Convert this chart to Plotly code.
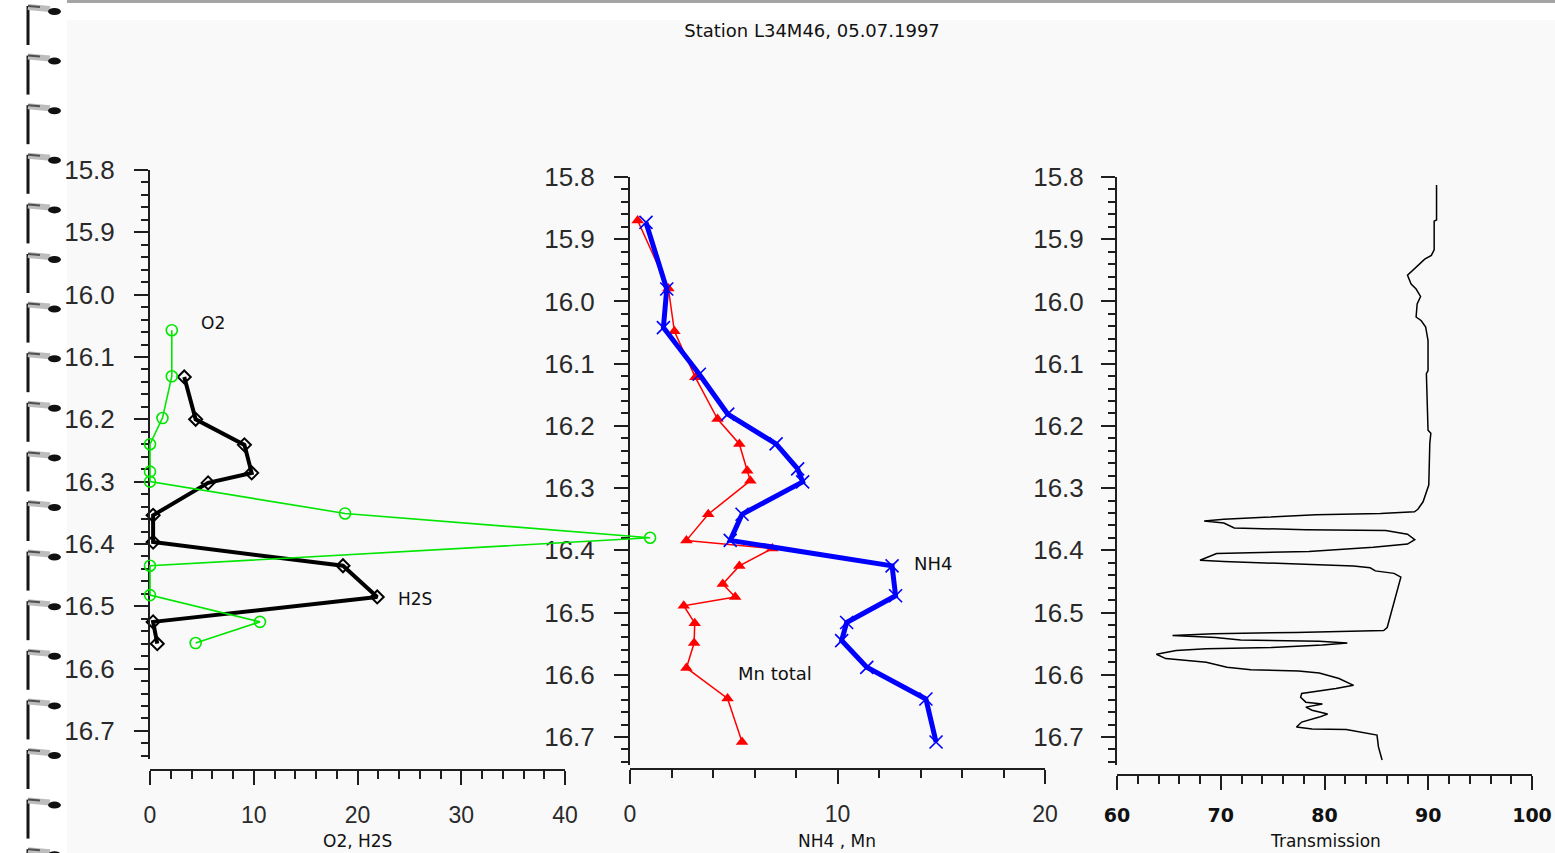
import plotly.graph_objects as go

# ---------------- data ----------------
o2_depth = [16.057, 16.131, 16.198, 16.240, 16.284, 16.300, 16.351, 16.390, 16.435, 16.482, 16.525, 16.559]
o2_value = [2.1, 2.1, 1.2, 0.0, 0.0, 0.0, 18.8, 48.2, 0.0, 0.0, 10.6, 4.4]

h2s_depth = [16.132, 16.200, 16.241, 16.286, 16.302, 16.354, 16.397, 16.435, 16.485, 16.525, 16.560]
h2s_value = [3.3, 4.4, 9.1, 9.8, 5.6, 0.3, 0.3, 18.6, 21.9, 0.3, 0.7]

nh4_depth = [15.873, 15.980, 16.042, 16.117, 16.181, 16.229, 16.269, 16.290, 16.342, 16.384,
             16.425, 16.473, 16.516, 16.545, 16.588, 16.639, 16.708]
nh4_value = [0.77, 1.77, 1.61, 3.34, 4.71, 7.04, 8.08, 8.32, 5.4, 4.83,
             12.63, 12.8, 10.44, 10.2, 11.41, 14.26, 14.75]

mn_depth = [15.870, 15.979, 16.048, 16.122, 16.189, 16.229, 16.272, 16.288, 16.342, 16.384,
            16.397, 16.425, 16.454, 16.475, 16.489, 16.517, 16.549, 16.589, 16.638, 16.708]
mn_value = [0.37, 1.85, 2.14, 3.15, 4.22, 5.27, 5.65, 5.8, 3.77, 2.72,
            6.86, 5.27, 4.47, 5.07, 2.59, 3.12, 3.09, 2.72, 4.7, 5.4]

trans_depth = [15.813, 15.869, 15.871, 15.917, 15.926, 15.932, 15.958, 15.972, 15.980, 15.992,
               16.004, 16.025, 16.031, 16.041, 16.063, 16.111, 16.116, 16.140, 16.207, 16.212,
               16.228, 16.295, 16.308, 16.322, 16.334, 16.338, 16.341, 16.343, 16.347, 16.350,
               16.353, 16.356, 16.364, 16.367, 16.368, 16.374, 16.383, 16.390, 16.395, 16.402,
               16.405, 16.416, 16.418, 16.422, 16.425, 16.428, 16.433, 16.437, 16.443, 16.524,
               16.529, 16.532, 16.534, 16.537, 16.540, 16.544, 16.546, 16.549, 16.552, 16.556,
               16.558, 16.561, 16.567, 16.574, 16.580, 16.588, 16.592, 16.594, 16.597, 16.606,
               16.617, 16.622, 16.626, 16.630, 16.636, 16.644, 16.647, 16.652, 16.657, 16.663,
               16.668, 16.676, 16.684, 16.687, 16.688, 16.697, 16.716, 16.737]
trans_value = [90.8, 90.8, 90.57, 90.57, 90.3, 89.66, 88.0, 88.35, 88.83, 89.26,
               88.93, 88.83, 89.33, 89.75, 89.98, 89.98, 89.82, 89.88, 89.98, 90.25,
               90.15, 90.05, 89.82, 89.5, 89.0, 88.67, 85.4, 79.15, 74.2, 70.3,
               68.4, 70.3, 71.3, 78.2, 85.9, 88.0, 88.7, 88.0, 84.7, 78.5,
               69.6, 68.0, 70.3, 77.2, 82.8, 84.4, 84.9, 86.7, 87.36, 86.04,
               85.7, 77.2, 69.3, 65.35, 69.5, 71.9, 79.5, 82.2, 79.8, 74.9,
               68.6, 65.7, 63.8, 64.7, 68.6, 70.6, 72.9, 77.5, 79.5, 81.4,
               82.8, 81.1, 79.5, 77.8, 77.7, 78.2, 79.8, 78.2, 78.8, 80.3,
               79.5, 77.8, 77.3, 78.8, 82.1, 85.06, 85.2, 85.55]

title_text = "Station L34M46, 05.07.1997"
depth_ticks = [15.8, 15.9, 16.0, 16.1, 16.2, 16.3, 16.4, 16.5, 16.6, 16.7]

# ---------------- geometry helpers ----------------
W, H = 1555, 853


def fx(px):
    return px / W


def fy(py):
    return 1 - py / H


AX = "#1e1e1e"
TXT = "#2a2a2a"

fig = go.Figure()

# O2 on a hidden, wider axis (same scale as panel 1) so its line can run past 40
fig.add_trace(go.Scatter(x=o2_value, y=o2_depth, xaxis="x4", yaxis="y", mode="lines+markers",
                         line=dict(color="#00e600", width=1.6),
                         marker=dict(symbol="circle-open", size=11, color="#00e600",
                                     line=dict(width=1.6, color="#00e600")),
                         cliponaxis=False, showlegend=False))
fig.add_trace(go.Scatter(x=h2s_value, y=h2s_depth, xaxis="x", yaxis="y", mode="lines+markers",
                         line=dict(color="#000000", width=4),
                         marker=dict(symbol="diamond-open", size=10, color="#000000",
                                     line=dict(width=2, color="#000000")),
                         cliponaxis=False, showlegend=False))
fig.add_trace(go.Scatter(x=mn_value, y=mn_depth, xaxis="x2", yaxis="y2", mode="lines+markers",
                         line=dict(color="#ff0000", width=1.5),
                         marker=dict(symbol="triangle-up", size=11, color="#ff0000"),
                         cliponaxis=False, showlegend=False))
fig.add_trace(go.Scatter(x=nh4_value, y=nh4_depth, xaxis="x2", yaxis="y2", mode="lines+markers",
                         line=dict(color="#0000ff", width=5),
                         marker=dict(symbol="x-thin", size=13, color="#0000ff",
                                     line=dict(width=1.6, color="#0000ff")),
                         cliponaxis=False, showlegend=False))
fig.add_trace(go.Scatter(x=trans_value, y=trans_depth, xaxis="x3", yaxis="y3", mode="lines",
                         line=dict(color="#000000", width=1.5),
                         cliponaxis=False, showlegend=False))


def yax(domain, anchor, standoff):
    return dict(domain=domain, anchor=anchor, range=[16.745, 15.8],
                tickmode="array", tickvals=depth_ticks, ticktext=[f"{v:.1f}" for v in depth_ticks],
                ticks="outside", ticklen=14, tickwidth=2, tickcolor=AX,
                showline=True, linewidth=2, linecolor=AX,
                showgrid=False, zeroline=False, ticklabelstandoff=standoff,
                automargin=False,
                tickfont=dict(family="Liberation Sans, Arial", size=26, color=TXT),
                minor=dict(tick0=15.8, dtick=0.02, ticks="outside", ticklen=7, tickwidth=2,
                           tickcolor=AX, showgrid=False))


def xax(domain, rng, pos, font, standoff):
    return dict(domain=domain, anchor="free", position=pos, range=rng,
                tick0=rng[0], dtick=10, tickmode="linear",
                ticks="outside", ticklen=14, tickwidth=2, tickcolor=AX,
                showline=True, linewidth=2, linecolor=AX,
                showgrid=False, zeroline=False, ticklabelstandoff=standoff,
                automargin=False,
                tickfont=font,
                minor=dict(tick0=rng[0], dtick=2, ticks="outside", ticklen=8, tickwidth=2,
                           tickcolor=AX, showgrid=False))


norm_font = dict(family="Liberation Sans, Arial", size=23, color=TXT)
bold_font = dict(family="DejaVu Sans", size=19, color="#111111", weight="bold")

fig.update_layout(
    width=W, height=H,
    autosize=False,
    margin=dict(l=0, r=0, t=0, b=0, pad=0, autoexpand=False),
    paper_bgcolor="#ffffff",
    plot_bgcolor="rgba(0,0,0,0)",
    xaxis=xax([fx(150), fx(565)], [0, 40], fy(770), norm_font, 10),
    yaxis=yax([fy(759), fy(170)], "x", 14),
    xaxis2=xax([fx(630), fx(1045)], [0, 20], fy(769), norm_font, 10),
    yaxis2=yax([fy(765), fy(177)], "x2", 14),
    xaxis3=xax([fx(1117), fx(1532)], [60, 100], fy(775), bold_font, 9),
    yaxis3=yax([fy(765), fy(177)], "x3", 12),
    xaxis4=dict(domain=[fx(150 - 2 * 10.375), fx(150 + 50 * 10.375)], range=[-2, 50],
                anchor="y", visible=False, showgrid=False, zeroline=False),
    title=dict(text=title_text, x=fx(812), y=fy(31), xanchor="center", yanchor="middle",
               font=dict(family="DejaVu Sans", size=18, color="#111111")),
)

# background panels and the spiral binding decoration
shapes = [
    dict(type="rect", xref="paper", yref="paper", x0=fx(67), x1=1, y0=0, y1=fy(20),
         fillcolor="#f9f9f9", line=dict(width=0), layer="below"),
    dict(type="rect", xref="paper", yref="paper", x0=fx(67), x1=1, y0=fy(3), y1=1,
         fillcolor="#a4a4a4", line=dict(width=0), layer="below"),
]
for k in range(18):
    y0 = 7 + 49.6 * k
    shapes.append(dict(type="line", xref="paper", yref="paper", x0=fx(28), x1=fx(28),
                       y0=fy(y0 - 1), y1=fy(y0 + 38), line=dict(color="#151515", width=3)))
    shapes.append(dict(type="line", xref="paper", yref="paper", x0=fx(28), x1=fx(50),
                       y0=fy(y0), y1=fy(y0 + 2), line=dict(color="#bdbdbd", width=6)))
    shapes.append(dict(type="line", xref="paper", yref="paper", x0=fx(28), x1=fx(40),
                       y0=fy(y0 - 1), y1=fy(y0), line=dict(color="#505050", width=2)))
    shapes.append(dict(type="circle", xref="paper", yref="paper", x0=fx(48), x1=fx(61),
                       y0=fy(y0 + 8), y1=fy(y0 + 1), fillcolor="#111111",
                       line=dict(width=0)))
fig.update_layout(shapes=shapes)

label_font = dict(family="DejaVu Sans", size=17, color="#111111")
axis_title_font = dict(family="DejaVu Sans", size=17, color="#111111")
annotations = [
    dict(text="O2", x=fx(213), y=fy(323), font=label_font),
    dict(text="H2S", x=fx(415), y=fy(599), font=label_font),
    dict(text="NH4", x=fx(933), y=fy(563), font=dict(family="DejaVu Sans", size=18, color="#111111")),
    dict(text="Mn total", x=fx(775), y=fy(673), font=dict(family="DejaVu Sans", size=18, color="#111111")),
    dict(text="O2, H2S", x=fx(357), y=fy(841), font=axis_title_font),
    dict(text="NH4 , Mn", x=fx(837), y=fy(841), font=axis_title_font),
    dict(text="Transmission", x=fx(1325), y=fy(841), font=axis_title_font),
]
for a in annotations:
    a.update(xref="paper", yref="paper", xanchor="center", yanchor="middle", showarrow=False)
fig.update_layout(annotations=annotations)

fig.write_html("out.html", config={"displayModeBar": False},
               post_script="document.body.style.margin='0';document.body.style.overflow='hidden';")
